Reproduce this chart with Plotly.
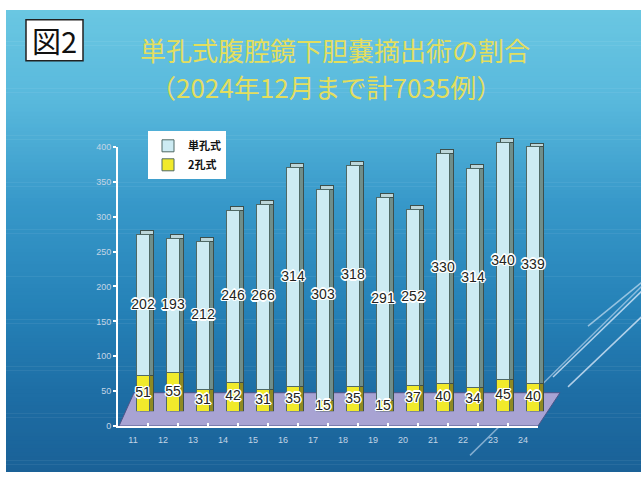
import plotly.graph_objects as go

# ---------------- data ----------------
years = ["11", "12", "13", "14", "15", "16", "17", "18", "19", "20", "21", "22", "23", "24"]
single_port = [202, 193, 212, 246, 266, 314, 303, 318, 291, 252, 330, 314, 340, 339]
two_port = [51, 55, 31, 42, 31, 35, 15, 35, 15, 37, 40, 34, 45, 40]
y_ticks = [0, 50, 100, 150, 200, 250, 300, 350, 400]
series_names = ["単孔式", "2孔式"]
title_1 = "単孔式腹腔鏡下胆嚢摘出術の割合"
title_2 = "（2024年12月まで計7035例）"
fig_label = "図2"

# ---------------- layout helpers ----------------
W, H = 643, 478


def fx(x):
    return x / W


def fy(y):
    return 1 - y / H


def hex2rgb(h):
    h = h.lstrip("#")
    return [int(h[i:i + 2], 16) for i in (0, 2, 4)]


def lerp_color(stops, t):
    for i in range(len(stops) - 1):
        t0, c0 = stops[i]
        t1, c1 = stops[i + 1]
        if t0 <= t <= t1:
            u = (t - t0) / (t1 - t0) if t1 > t0 else 0
            a, b = hex2rgb(c0), hex2rgb(c1)
            return "rgb(%d,%d,%d)" % tuple(round(a[k] + (b[k] - a[k]) * u) for k in range(3))
    return stops[-1][1]


shapes = []
# background gradient (blue panel inside white frame)
grad_stops = [(0.0, "#6ac7e2"), (0.2, "#58b8dc"), (0.42, "#3798c9"),
              (0.65, "#2581b7"), (0.85, "#1d6ca3"), (1.0, "#1a6197")]
top, bot, left, right = 5, 477, 6, 641
N = 118
step = (bot - top) / N
for i in range(N):
    y0 = top + i * step
    y1 = y0 + step + 0.6
    shapes.append(dict(type="rect", xref="paper", yref="paper", layer="below",
                       x0=fx(left), x1=fx(right), y0=fy(min(y1, bot)), y1=fy(y0),
                       fillcolor=lerp_color(grad_stops, (i + 0.5) / N), line=dict(width=0)))

# decorative diagonal light lines
for (x0, y0, x1, y1, c) in [(470, 460, 642, 287, "rgba(215,232,250,0.55)"),
                            (553, 380, 642, 292, "rgba(225,238,252,0.75)"),
                            (568, 390, 642, 318, "rgba(225,238,252,0.75)"),
                            (588, 328, 642, 283, "rgba(225,238,252,0.6)")]:
    shapes.append(dict(type="line", xref="paper", yref="paper", layer="below",
                       x0=fx(x0), y0=fy(y0), x1=fx(x1), y1=fy(y1),
                       line=dict(color=c, width=1.5)))

# 3D floor
floor_pts = [(119, 430), (134, 396), (560, 396), (538, 430)]
path = "M " + " L ".join("%f,%f" % (fx(x), fy(y)) for x, y in floor_pts) + " Z"
shapes.append(dict(type="path", xref="paper", yref="paper", layer="below", path=path,
                   fillcolor="#a8a3d3", line=dict(color="#4e5588", width=1)))

# 図2 box
shapes.append(dict(type="rect", xref="paper", yref="paper", layer="above",
                   x0=fx(26), x1=fx(83), y0=fy(57), y1=fy(15),
                   fillcolor="white", line=dict(color="#222", width=1.5)))

# ---------------- traces ----------------
bar_w = 0.43
fig = go.Figure()

# invisible trace to define main (visible) axes categories
fig.add_trace(go.Scatter(x=years, y=two_port, mode="markers", marker=dict(opacity=0),
                         xaxis="x", yaxis="y", showlegend=False, hoverinfo="skip"))

edge = dict(color="#3d4f4c", width=1)
# top-face copy (light)
fig.add_trace(go.Bar(x=years, y=two_port, xaxis="x2", yaxis="y2", width=bar_w,
                     marker=dict(color="#dcd879", line=edge), showlegend=False, hoverinfo="skip"))
fig.add_trace(go.Bar(x=years, y=single_port, xaxis="x2", yaxis="y2", width=bar_w,
                     marker=dict(color="#bcd6da", line=edge), showlegend=False, hoverinfo="skip"))
# side-face copy (dark)
fig.add_trace(go.Bar(x=years, y=two_port, xaxis="x3", yaxis="y3", width=bar_w,
                     marker=dict(color="#8f8a22", line=edge), showlegend=False, hoverinfo="skip"))
fig.add_trace(go.Bar(x=years, y=single_port, xaxis="x3", yaxis="y3", width=bar_w,
                     marker=dict(color="#6f8e8b", line=edge), showlegend=False, hoverinfo="skip"))

# front faces
fig.add_trace(go.Bar(x=years, y=two_port, xaxis="x4", yaxis="y4", width=bar_w,
                     name=series_names[1],
                     marker=dict(color="#f1ea2b", line=dict(color="#4f6966", width=1))))
fig.add_trace(go.Bar(x=years, y=single_port, xaxis="x4", yaxis="y4", width=bar_w,
                     name=series_names[0],
                     marker=dict(color="#cdebf3", line=dict(color="#4f6966", width=1))))

halo = ("white 1.5px 0px 0px, white -1.5px 0px 0px, white 0px 1.5px 0px, white 0px -1.5px 0px, "
        "white 1px 1px 0px, white -1px -1px 0px, white 1px -1px 0px, white -1px 1px 0px")
label_font = dict(family="Liberation Sans, Arial, sans-serif", size=14, color="#231f20", shadow=halo)

fig.add_trace(go.Scatter(x=years, y=[v / 2 for v in two_port], text=[str(v) for v in two_port],
                         mode="text", textposition="middle center", textfont=label_font,
                         xaxis="x4", yaxis="y4", showlegend=False, hoverinfo="skip"))
fig.add_trace(go.Scatter(x=years, y=[a + b / 2 for a, b in zip(two_port, single_port)],
                         text=[str(v) for v in single_port],
                         mode="text", textposition="middle center", textfont=label_font,
                         xaxis="x4", yaxis="y4", showlegend=False, hoverinfo="skip"))

# ---------------- axes ----------------
tick_font = dict(family="Liberation Sans, Arial, sans-serif", size=9, color="#c3d5e6")
xr = [-0.5, len(years) - 0.5]
yr = [0, 400]

main_x = [118, 538]
main_y = [430, 145]


def xdom(dx):
    return [fx(main_x[0] + dx), fx(main_x[1] + dx)]


def ydom(dy):
    return [fy(main_y[0] - dy), fy(main_y[1] - dy)]


hidden = dict(visible=False, showgrid=False, zeroline=False, fixedrange=True)


def cat_axis(dx, anchor):
    return dict(domain=xdom(dx), anchor=anchor, type="category", categoryorder="array",
                categoryarray=years, range=xr, **hidden)


fig.update_layout(
    width=W, height=H,
    margin=dict(l=0, r=0, t=0, b=0),
    paper_bgcolor="white",
    plot_bgcolor="rgba(0,0,0,0)",
    barmode="stack",
    shapes=shapes,
    showlegend=True,
    legend=dict(x=fx(148), y=fy(129), xanchor="left", yanchor="top",
                bgcolor="white", borderwidth=0, traceorder="reversed",
                itemwidth=30, tracegroupgap=0,
                font=dict(family="Noto Sans CJK JP", size=11, color="#111", weight="bold")),
    xaxis=dict(domain=xdom(0), anchor="y", type="category", categoryorder="array",
               categoryarray=years, range=xr, showline=True, linecolor="white", linewidth=2,
               ticks="inside", tickson="boundaries", ticklen=3, tickcolor="white", tickwidth=2,
               tickfont=tick_font, ticklabelstandoff=4, showgrid=False, zeroline=False),
    yaxis=dict(domain=ydom(0), anchor="x", range=yr, tickvals=y_ticks, showline=True,
               linecolor="white", linewidth=2, ticks="outside", ticklen=3, tickcolor="white",
               tickwidth=2, tickfont=tick_font, showgrid=False, zeroline=False),
    xaxis2=cat_axis(14, "y2"),
    yaxis2=dict(domain=ydom(19), anchor="x2", range=yr, **hidden),
    xaxis3=cat_axis(14, "y3"),
    yaxis3=dict(domain=ydom(15), anchor="x3", range=yr, **hidden),
    xaxis4=cat_axis(10, "y4"),
    yaxis4=dict(domain=ydom(15), anchor="x4", range=yr, **hidden),
)

title_font = dict(family="Noto Sans CJK JP", size=26, color="#e3de5e")
fig.add_annotation(x=fx(335), y=fy(45), xref="paper", yref="paper", text=title_1,
                   showarrow=False, font=title_font, xanchor="center", yanchor="middle",
                   borderpad=0)
fig.add_annotation(x=fx(326), y=fy(83.5), xref="paper", yref="paper", text=title_2,
                   showarrow=False, font=title_font, xanchor="center", yanchor="middle",
                   borderpad=0)
fig.add_annotation(x=fx(54.5), y=fy(36), xref="paper", yref="paper", text=fig_label,
                   showarrow=False, xanchor="center", yanchor="middle",
                   font=dict(family="Noto Sans CJK JP", size=29, color="#111"))

fig.write_html("out.html")
